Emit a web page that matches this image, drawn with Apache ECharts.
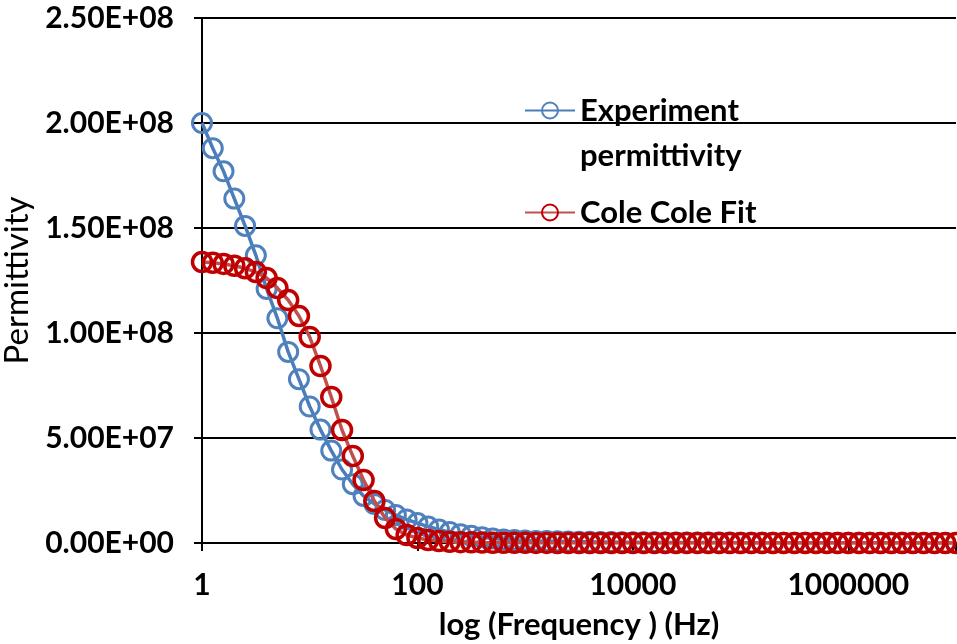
<!DOCTYPE html>
<html>
<head>
<meta charset="utf-8">
<script src="https://cdn.jsdelivr.net/npm/echarts@6/dist/echarts.min.js"></script>
<style>
  html, body { margin: 0; padding: 0; background: #fff; }
  #chart { width: 957px; height: 644px; }
</style>
</head>
<body>
<div id="chart"></div>
<script>
// Frequencies (Hz), 10 points per decade from 1 Hz to 10 MHz
const frequencies = [
  1, 1.259, 1.585, 1.995, 2.512, 3.162, 3.981, 5.012, 6.310, 7.943,
  10, 12.59, 15.85, 19.95, 25.12, 31.62, 39.81, 50.12, 63.10, 79.43,
  100, 125.9, 158.5, 199.5, 251.2, 316.2, 398.1, 501.2, 631.0, 794.3,
  1000, 1259, 1585, 1995, 2512, 3162, 3981, 5012, 6310, 7943,
  10000, 12589, 15849, 19953, 25119, 31623, 39811, 50119, 63096, 79433,
  100000, 125893, 158489, 199526, 251189, 316228, 398107, 501187, 630957, 794328,
  1000000, 1258925, 1584893, 1995262, 2511886, 3162278, 3981072, 5011872, 6309573, 7943282,
  10000000
];

// Experiment permittivity
const experimentPermittivity = [
  2.00e8, 1.88e8, 1.77e8, 1.64e8, 1.51e8, 1.37e8, 1.21e8, 1.07e8, 0.91e8, 0.78e8,
  0.65e8, 0.54e8, 0.44e8, 0.35e8, 0.28e8, 0.224e8, 0.186e8, 0.157e8, 0.133e8, 0.112e8,
  0.095e8, 0.078e8, 0.064e8, 0.052e8, 0.042e8, 0.034e8, 0.027e8, 0.021e8, 0.017e8, 0.014e8,
  0.012e8, 0.010e8, 0.009e8, 0.008e8, 0.007e8, 0.006e8, 0.0055e8, 0.005e8, 0.0045e8, 0.004e8,
  0.0037e8, 0.0034e8, 0.0031e8, 0.0028e8, 0.0026e8, 0.0024e8, 0.0022e8, 0.002e8, 0.0019e8, 0.0018e8,
  0.0017e8, 0.0016e8, 0.0015e8, 0.0014e8, 0.0013e8, 0.0012e8, 0.0011e8, 0.001e8, 0.001e8, 0.0009e8,
  0.0009e8, 0.0008e8, 0.0008e8, 0.0007e8, 0.0007e8, 0.0006e8, 0.0006e8, 0.0005e8, 0.0005e8, 0.0005e8,
  0.0004e8
];

// Cole Cole Fit
const coleColeFit = [
  1.338e8, 1.334e8, 1.329e8, 1.320e8, 1.308e8, 1.290e8, 1.262e8, 1.214e8, 1.157e8, 1.081e8,
  0.981e8, 0.843e8, 0.695e8, 0.538e8, 0.414e8, 0.300e8, 0.200e8, 0.119e8, 0.067e8, 0.038e8,
  0.024e8, 0.014e8, 0.0095e8, 0.006e8, 0.004e8, 0.003e8, 0.002e8, 0.0015e8, 0.001e8, 0.0008e8,
  0.0006e8, 0.0005e8, 0.0004e8, 0.0003e8, 0.0002e8, 0.0002e8, 0.0001e8, 0.0001e8, 0.0001e8, 0.0001e8,
  0.0001e8, 0.0001e8, 0.0001e8, 0.0001e8, 0.0001e8, 0.0001e8, 0.0001e8, 0.0001e8, 0.0001e8, 0.0001e8,
  0.0001e8, 0.0001e8, 0.0001e8, 0.0001e8, 0.0001e8, 0.0001e8, 0.0001e8, 0.0001e8, 0.0001e8, 0.0001e8,
  0.0001e8, 0.0001e8, 0.0001e8, 0.0001e8, 0.0001e8, 0.0001e8, 0.0001e8, 0.0001e8, 0.0001e8, 0.0001e8,
  0.0001e8
];

const xTickValues = [1, 100, 10000, 1000000];
const xTickLabels = ['1', '100', '10000', '1000000'];
const yTickLabels = ['0.00E+00', '5.00E+07', '1.00E+08', '1.50E+08', '2.00E+08', '2.50E+08'];

const seriesNames = ['Experiment permittivity', 'Cole Cole Fit'];

const FONT = 'Lato';

function pairs(xs, ys) {
  return xs.map(function (x, i) { return [x, ys[i]]; });
}

const chart = echarts.init(document.getElementById('chart'), null, { renderer: 'canvas' });

chart.setOption({
  animation: false,
  backgroundColor: '#ffffff',
  grid: { left: 202, right: 1, top: 18, bottom: 101, containLabel: false, outerBoundsMode: 'none' },
  legend: [
    {
      data: [seriesNames[0]],
      left: 524,
      top: 43,
      padding: 0,
      itemWidth: 50,
      itemHeight: 20,
      formatter: function () { return '\nExperiment\npermittivity'; },
      textStyle: {
        fontFamily: FONT, fontSize: 31, fontWeight: 'bold', color: '#000',
        lineHeight: 45
      }
    },
    {
      data: [seriesNames[1]],
      left: 524,
      top: 197,
      padding: 0,
      itemWidth: 50,
      itemHeight: 20,
      textStyle: {
        fontFamily: FONT, fontSize: 31, fontWeight: 'bold', color: '#000',
        lineHeight: 30
      }
    }
  ],
  xAxis: {
    type: 'log',
    logBase: 100,
    min: 1,
    max: 10000000,
    axisLine: { show: true, onZero: false, lineStyle: { color: '#000', width: 2 } },
    axisTick: { show: true, length: 8, lineStyle: { color: '#000', width: 2 } },
    splitLine: { show: false },
    axisLabel: {
      margin: 27,
      fontFamily: FONT, fontSize: 30, fontWeight: 'bold', color: '#000',
      formatter: function (v) {
        for (let i = 0; i < xTickValues.length; i++) {
          if (Math.abs(v - xTickValues[i]) / xTickValues[i] < 1e-6) return xTickLabels[i];
        }
        return '';
      }
    },
    name: 'log (Frequency ) (Hz)',
    nameLocation: 'middle',
    nameGap: 66,
    nameTextStyle: { fontFamily: FONT, fontSize: 31, fontWeight: 'bold', color: '#000' }
  },
  yAxis: {
    type: 'value',
    min: 0,
    max: 250000000,
    interval: 50000000,
    axisLine: { show: true, lineStyle: { color: '#000', width: 2 } },
    axisTick: { show: true, length: 8, lineStyle: { color: '#000', width: 2 } },
    splitLine: { show: true, lineStyle: { color: '#000', width: 2 } },
    axisLabel: {
      margin: 28,
      fontFamily: FONT, fontSize: 30, fontWeight: 'bold', color: '#000',
      formatter: function (v) { return yTickLabels[Math.round(v / 50000000)]; }
    },
    name: 'Permittivity',
    nameLocation: 'middle',
    nameRotate: 90,
    nameGap: 156,
    nameTextStyle: { fontFamily: FONT, fontSize: 33, color: '#000' }
  },
  series: [
    {
      name: seriesNames[0],
      type: 'line',
      data: pairs(frequencies, experimentPermittivity),
      symbol: 'circle',
      symbolSize: 19,
      showAllSymbol: true,
      itemStyle: { color: 'rgba(255,255,255,0)', borderColor: '#4F81BD', borderWidth: 3 },
      lineStyle: { color: '#4A7EBB', width: 3.5 },
      z: 2
    },
    {
      name: seriesNames[1],
      type: 'line',
      data: pairs(frequencies, coleColeFit),
      symbol: 'circle',
      symbolSize: 19,
      showAllSymbol: true,
      itemStyle: { color: 'rgba(255,255,255,0)', borderColor: '#C00000', borderWidth: 3.5 },
      lineStyle: { color: '#C0504D', width: 3.5 },
      z: 3
    }
  ]
});
</script>
</body>
</html>
